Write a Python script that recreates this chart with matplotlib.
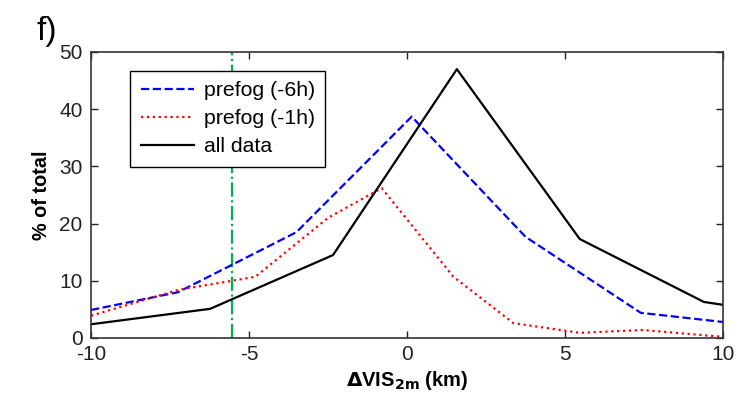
import numpy as np
import matplotlib.pyplot as plt

plt.rcParams['font.family'] = ['Liberation Sans', 'DejaVu Sans']
plt.rcParams['axes.unicode_minus'] = False

# valeurs
x_6h = [-10, -7.25, -3.5, 0.15, 3.75, 7.4, 10]
y_6h = [4.9, 8.0, 18.5, 38.7, 17.7, 4.4, 2.8]

x_1h = [-10, -7.25, -4.8, -2.5, -0.8, 1.47, 3.37, 5.47, 7.47, 10]
y_1h = [3.9, 8.4, 10.7, 21.0, 26.2, 10.7, 2.6, 0.9, 1.4, 0.2]

x_all = [-10, -6.23, -2.34, 1.58, 5.47, 9.4, 10]
y_all = [2.4, 5.1, 14.5, 47.0, 17.3, 6.3, 5.8]

x_seuil = -5.54
xticks = [-10, -5, 0, 5, 10]
yticks = [0, 10, 20, 30, 40, 50]

fig = plt.figure(figsize=(7.53, 4.03), dpi=100)
ax = fig.add_axes([0.1209, 0.1613, 0.8391, 0.7097])

ax.axvline(x_seuil, color='#00b050', linestyle='-.', linewidth=1.6, zorder=1)
ax.plot(x_6h, y_6h, color='blue', linestyle='--', linewidth=1.6, label='prefog (-6h)')
ax.plot(x_1h, y_1h, color='red', linestyle=':', linewidth=1.6, label='prefog (-1h)')
ax.plot(x_all, y_all, color='black', linestyle='-', linewidth=1.6, label='all data')

ax.set_xlim(-10, 10)
ax.set_ylim(0, 50)
ax.set_xticks(xticks)
ax.set_yticks(yticks)
ax.tick_params(direction='in', length=5, width=1, top=True, right=True,
               labelsize=15, colors='#222222')
ax.tick_params(axis='x', pad=5)
ax.tick_params(axis='y', pad=6)
for s in ax.spines.values():
    s.set_linewidth(1.2)
    s.set_color('#333333')

ax.set_xlabel(r'$\mathbf{\Delta}$VIS$_{\mathbf{2m}}$ (km)', fontsize=14.5, fontweight='bold', labelpad=4)
ax.set_ylabel('% of total', fontsize=14.3, fontweight='bold', labelpad=6)

leg = ax.legend(loc='upper left', bbox_to_anchor=(0.062, 0.935), fontsize=15.3,
                frameon=True, fancybox=False, handlelength=2.5, handletextpad=0.45,
                borderpad=0.5, labelspacing=0.42, borderaxespad=0)
leg.get_frame().set_edgecolor('black')
leg.get_frame().set_linewidth(1.0)
leg.get_frame().set_alpha(1)

fig.text(0.049, 0.9, 'f)', fontsize=24)

fig.savefig('out.png', dpi=100)
